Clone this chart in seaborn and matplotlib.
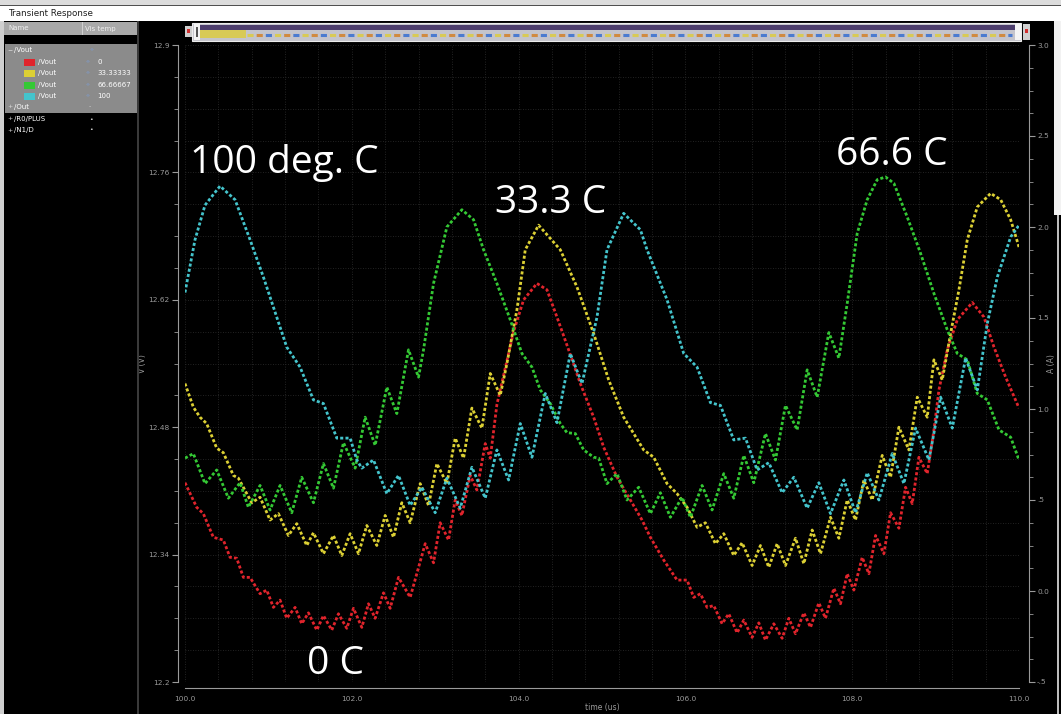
import numpy as np
import pandas as pd
import seaborn as sns
import matplotlib.pyplot as plt
from matplotlib.patches import Rectangle
from matplotlib.lines import Line2D
from matplotlib.ticker import FixedLocator, AutoMinorLocator

# ---- traces (time in us, volts) ----
t_0c = [100.00, 100.14, 100.22, 100.34, 100.46, 100.54, 100.62, 100.70, 100.78, 100.90,
        100.98, 101.06, 101.14, 101.22, 101.32, 101.40, 101.48, 101.58, 101.66, 101.76,
        101.84, 101.94, 102.02, 102.12, 102.20, 102.28, 102.38, 102.46, 102.56, 102.70,
        102.88, 102.98, 103.06, 103.16, 103.24, 103.32, 103.42, 103.50, 103.60, 103.66,
        103.74, 103.84, 103.94, 104.06, 104.22, 104.34, 104.46, 104.60, 104.74, 104.90,
        105.02, 105.18, 105.34, 105.48, 105.58, 105.74, 105.90, 106.02, 106.10, 106.18,
        106.26, 106.34, 106.44, 106.52, 106.62, 106.70, 106.80, 106.88, 106.96, 107.06,
        107.16, 107.24, 107.32, 107.42, 107.50, 107.60, 107.68, 107.78, 107.86, 107.94,
        108.02, 108.12, 108.20, 108.28, 108.38, 108.46, 108.56, 108.64, 108.72, 108.80,
        108.90, 108.98, 109.04, 109.14, 109.26, 109.44, 109.58, 109.70, 109.84, 110.00]
v_0c = [12.419, 12.392, 12.385, 12.359, 12.356, 12.337, 12.336, 12.315, 12.315, 12.297,
        12.301, 12.282, 12.290, 12.270, 12.282, 12.264, 12.276, 12.257, 12.273, 12.257,
        12.275, 12.259, 12.281, 12.260, 12.286, 12.270, 12.298, 12.281, 12.315, 12.293,
        12.352, 12.331, 12.375, 12.356, 12.400, 12.383, 12.427, 12.411, 12.462, 12.446,
        12.505, 12.545, 12.585, 12.620, 12.638, 12.631, 12.601, 12.565, 12.528, 12.491,
        12.458, 12.425, 12.400, 12.378, 12.359, 12.334, 12.312, 12.312, 12.293, 12.297,
        12.282, 12.284, 12.264, 12.275, 12.254, 12.268, 12.249, 12.265, 12.246, 12.264,
        12.248, 12.270, 12.253, 12.276, 12.260, 12.287, 12.270, 12.303, 12.286, 12.319,
        12.301, 12.337, 12.319, 12.361, 12.341, 12.386, 12.369, 12.414, 12.396, 12.447,
        12.429, 12.477, 12.521, 12.565, 12.598, 12.617, 12.601, 12.568, 12.535, 12.501]

t_33c = [100.00, 100.10, 100.18, 100.26, 100.38, 100.46, 100.58, 100.64, 100.80, 100.90,
         101.02, 101.12, 101.24, 101.34, 101.46, 101.54, 101.66, 101.78, 101.88, 101.98,
         102.08, 102.18, 102.30, 102.40, 102.50, 102.60, 102.70, 102.82, 102.92, 103.02,
         103.14, 103.24, 103.34, 103.44, 103.56, 103.66, 103.78, 103.86, 103.98, 104.08,
         104.24, 104.50, 104.70, 104.90, 105.08, 105.26, 105.50, 105.62, 105.78, 105.90,
         106.02, 106.14, 106.24, 106.36, 106.46, 106.58, 106.68, 106.80, 106.90, 107.00,
         107.10, 107.20, 107.32, 107.42, 107.52, 107.62, 107.74, 107.84, 107.94, 108.04,
         108.14, 108.24, 108.36, 108.46, 108.56, 108.68, 108.78, 108.90, 108.98, 109.08,
         109.18, 109.28, 109.38, 109.50, 109.66, 109.78, 109.90, 110.00]
v_33c = [12.528, 12.502, 12.491, 12.484, 12.457, 12.452, 12.427, 12.424, 12.397, 12.403,
         12.378, 12.385, 12.361, 12.374, 12.350, 12.364, 12.341, 12.361, 12.339, 12.363,
         12.341, 12.372, 12.350, 12.383, 12.359, 12.397, 12.375, 12.418, 12.394, 12.440,
         12.418, 12.468, 12.446, 12.501, 12.479, 12.539, 12.515, 12.550, 12.609, 12.675,
         12.702, 12.675, 12.634, 12.583, 12.532, 12.491, 12.455, 12.447, 12.418, 12.407,
         12.392, 12.370, 12.375, 12.352, 12.363, 12.339, 12.353, 12.328, 12.350, 12.326,
         12.352, 12.328, 12.358, 12.330, 12.367, 12.341, 12.381, 12.358, 12.400, 12.378,
         12.422, 12.400, 12.449, 12.425, 12.480, 12.455, 12.513, 12.491, 12.554, 12.532,
         12.583, 12.631, 12.686, 12.722, 12.737, 12.730, 12.708, 12.678]

t_67c = [100.00, 100.10, 100.24, 100.38, 100.52, 100.66, 100.76, 100.90, 101.02, 101.14,
         101.28, 101.40, 101.54, 101.66, 101.78, 101.90, 102.04, 102.16, 102.28, 102.42,
         102.54, 102.68, 102.80, 102.86, 102.98, 103.14, 103.32, 103.46, 103.58, 103.74,
         103.90, 104.04, 104.16, 104.26, 104.38, 104.50, 104.58, 104.68, 104.78, 104.90,
         104.96, 105.06, 105.18, 105.30, 105.44, 105.58, 105.70, 105.82, 105.96, 106.06,
         106.20, 106.32, 106.46, 106.58, 106.70, 106.82, 106.96, 107.08, 107.20, 107.34,
         107.46, 107.58, 107.72, 107.84, 107.94, 108.06, 108.18, 108.30, 108.40, 108.50,
         108.66, 108.82, 108.98, 109.14, 109.26, 109.38, 109.50, 109.62, 109.76, 109.90,
         110.00]
v_67c = [12.446, 12.451, 12.418, 12.433, 12.402, 12.419, 12.392, 12.416, 12.389, 12.416,
         12.386, 12.425, 12.397, 12.440, 12.413, 12.463, 12.435, 12.491, 12.460, 12.524,
         12.495, 12.565, 12.535, 12.565, 12.638, 12.700, 12.719, 12.708, 12.675, 12.638,
         12.598, 12.561, 12.546, 12.521, 12.506, 12.484, 12.474, 12.473, 12.455, 12.447,
         12.446, 12.418, 12.429, 12.400, 12.414, 12.385, 12.408, 12.381, 12.403, 12.381,
         12.416, 12.389, 12.429, 12.402, 12.449, 12.419, 12.473, 12.444, 12.504, 12.477,
         12.543, 12.513, 12.584, 12.556, 12.616, 12.693, 12.730, 12.752, 12.755, 12.748,
         12.711, 12.671, 12.627, 12.587, 12.561, 12.554, 12.517, 12.510, 12.477, 12.469,
         12.444]

t_100c = [100.00, 100.12, 100.24, 100.42, 100.60, 100.78, 100.94, 101.22, 101.38, 101.54,
          101.66, 101.82, 101.98, 102.06, 102.12, 102.26, 102.42, 102.56, 102.70, 102.84,
          103.00, 103.14, 103.30, 103.44, 103.60, 103.74, 103.88, 104.02, 104.16, 104.32,
          104.46, 104.62, 104.76, 104.94, 105.06, 105.26, 105.46, 105.54, 105.78, 105.98,
          106.14, 106.30, 106.42, 106.58, 106.72, 106.86, 107.00, 107.16, 107.30, 107.46,
          107.60, 107.74, 107.90, 108.04, 108.18, 108.32, 108.48, 108.62, 108.76, 108.92,
          109.06, 109.20, 109.36, 109.50, 109.62, 109.74, 109.90, 110.00]
v_100c = [12.628, 12.686, 12.724, 12.745, 12.730, 12.686, 12.645, 12.568, 12.546, 12.510,
          12.506, 12.468, 12.468, 12.444, 12.435, 12.444, 12.407, 12.427, 12.394, 12.414,
          12.386, 12.424, 12.391, 12.436, 12.402, 12.455, 12.422, 12.484, 12.447, 12.517,
          12.485, 12.561, 12.528, 12.601, 12.675, 12.715, 12.697, 12.675, 12.620, 12.561,
          12.546, 12.507, 12.504, 12.466, 12.468, 12.433, 12.441, 12.408, 12.425, 12.391,
          12.419, 12.385, 12.422, 12.386, 12.430, 12.400, 12.451, 12.418, 12.479, 12.444,
          12.513, 12.479, 12.556, 12.521, 12.594, 12.645, 12.689, 12.702]

temps = ['0', '33.33333', '66.66667', '100']
trace_colors = ['#e0242c', '#dcd034', '#34c834', '#44c4cc']
notes = ['0 C', '33.3 C', '66.6 C', '100 deg. C']
note_t = [101.46, 103.72, 107.81, 100.06]
note_v = [12.209, 12.715, 12.768, 12.759]

x_ticks = [100, 102, 104, 106, 108, 110]
x_labels = ['100.0', '102.0', '104.0', '106.0', '108.0', '110.0']
v_ticks = [12.2, 12.34, 12.48, 12.62, 12.76, 12.9]
v_labels = ['12.2', '12.34', '12.48', '12.62', '12.76', '12.9']
a_ticks = [-0.5, 0.0, 0.5, 1.0, 1.5, 2.0, 2.5, 3.0]
a_labels = ['-.5', '0.0', '.5', '1.0', '1.5', '2.0', '2.5', '3.0']

df = pd.concat([
    pd.DataFrame({'time': t, 'V': v, 'temp': name})
    for t, v, name in zip([t_0c, t_33c, t_67c, t_100c], [v_0c, v_33c, v_67c, v_100c], temps)
])

sns.set_style('dark', {'axes.facecolor': 'black', 'figure.facecolor': 'black'})
plt.rcParams['font.family'] = ['DejaVu Sans']

W, H = 1061, 714
def fx(x):
    return x / W
def fy(y):
    return 1 - y / H

def box(x0, y0, x1, y1, **kw):
    fig.add_artist(Rectangle((fx(x0), fy(y1)), (x1 - x0) / W, (y1 - y0) / H,
                             transform=fig.transFigure, **kw))

fig = plt.figure(figsize=(10.61, 7.14), dpi=100, facecolor='black')

# ---- window chrome ----
box(0, 0, W, 5, facecolor='#dcdcdc', edgecolor='none')
box(0, 5, W, 6.5, facecolor='#505050', edgecolor='none')
box(0, 6.5, W, 21, facecolor='white', edgecolor='none')
fig.text(fx(8), fy(14), 'Transient Response', fontsize=6.3, color='#202020', va='center')
box(0, 21, 4, H, facecolor='#cfcfcf', edgecolor='none')
box(137, 21, 139, H, facecolor='#3a3a3a', edgecolor='none')
box(1054, 21, W, 215, facecolor='#f2f2f2', edgecolor='none')
box(1057, 215, 1059, H, facecolor='#bdbdbd', edgecolor='none')

# signal browser on the left
box(4, 22, 137, 35, facecolor='#a9a9a9', edgecolor='none')
box(82, 22, 83, 35, facecolor='#d0d0d0', edgecolor='none')
fig.text(fx(8), fy(28.5), 'Name', fontsize=5, color='#efefef', va='center')
fig.text(fx(85), fy(28.5), 'Vis temp', fontsize=5, color='#efefef', va='center')
box(5, 44, 137, 113, facecolor='#8b8b8b', edgecolor='none')
tree = [(50, '\u2212', '/Vout', None), (107, '+', '/Out', '-'),
        (119, '+', '/R0/PLUS', '\u2022'), (130, '+', '/N1/D', '\u2022')]
for y, sign, name, mark in tree:
    fig.text(fx(7), fy(y), sign, fontsize=4.5, color='#dddddd', va='center')
    fig.text(fx(14), fy(y), name, fontsize=5, color='white', va='center')
    fig.text(fx(89), fy(y), mark if mark else '\u2039\u203a', fontsize=4.5,
             color='#7aa0e0' if mark is None else '#dddddd', va='center')
for y, name, col in zip([62, 73, 85, 96], temps, trace_colors):
    box(24, y - 3.5, 35, y + 3.5, facecolor=col, edgecolor='none')
    fig.text(fx(38), fy(y), '/Vout', fontsize=5, color='white', va='center')
    fig.text(fx(85), fy(y), '\u2039\u203a', fontsize=4.5, color='#7aa0e0', va='center')
    fig.text(fx(97), fy(y), name, fontsize=5, color='white', va='center')

# overview strip above the graph
box(185, 26, 192, 37, facecolor='#cfcfcf', edgecolor='none')
box(187, 29, 190, 33, facecolor='#d03030', edgecolor='none')
box(192, 23, 1021, 41, facecolor='#c4c4cc', edgecolor='#ececec', linewidth=0.8)
box(196, 25, 1017, 30, facecolor='#4c3d6c', edgecolor='none')
box(200, 30, 246, 38, facecolor='#d8ca56', edgecolor='none')
box(194, 24, 200, 40, facecolor='#f4f4f4', edgecolor='none')
box(196, 27, 198, 37, facecolor='#555555', edgecolor='none')
box(1015, 24, 1021, 40, facecolor='#f4f4f4', edgecolor='none')
box(1023, 24, 1030, 40, facecolor='#cfcfcf', edgecolor='none')
box(1025, 29, 1028, 33, facecolor='#d03030', edgecolor='none')
for col, off in zip(['#d8ca56', '#4b7bd0', '#d08a40'], [0, 3, 6]):
    fig.add_artist(Line2D([fx(247), fx(1012)], [fy(34.5), fy(34.5)], transform=fig.transFigure,
                          color=col, linewidth=2.2, linestyle=(off, (2, 7)),
                          dash_capstyle='butt'))

# ---- waveform graph ----
ax = fig.add_axes([fx(185), fy(682), 834 / W, 637 / H])
ax.set_facecolor('black')
sns.lineplot(data=df, x='time', y='V', hue='temp', hue_order=temps, palette=trace_colors,
             estimator=None, sort=False, legend=False, linewidth=2.0,
             linestyle=(0, (1.1, 0.8)), ax=ax)
ax.set_xlim(100, 110)
ax.set_ylim(12.2, 12.9)

grey = '#9a9a9a'
ax.xaxis.set_major_locator(FixedLocator(x_ticks))
ax.set_xticklabels(x_labels)
ax.xaxis.set_minor_locator(AutoMinorLocator(5))
ax.yaxis.set_major_locator(FixedLocator(v_ticks))
ax.set_yticklabels(v_labels)
ax.yaxis.set_minor_locator(AutoMinorLocator(4))
ax.grid(which='both', color='#2e2e2e', linestyle=(0, (1, 2)), linewidth=0.6)
ax.tick_params(axis='x', which='both', direction='in', length=3, colors=grey,
               labelsize=5.3, pad=6)
ax.tick_params(axis='y', which='major', direction='out', length=4, colors=grey,
               labelsize=5.3, pad=2)
ax.tick_params(axis='y', which='minor', direction='out', length=3, colors=grey)
for side in ['top', 'right']:
    ax.spines[side].set_visible(False)
ax.spines['left'].set_position(('outward', 5))
ax.spines['bottom'].set_position(('outward', 4))
ax.spines['left'].set_color(grey)
ax.spines['bottom'].set_color(grey)
ax.set_xlabel('time (us)', fontsize=5.5, color=grey)
ax.set_ylabel('V (V)', fontsize=5.5, color=grey)
ax.xaxis.set_label_coords(0.5, -0.033)
ax.yaxis.set_label_coords(-0.045, 0.5)

ax2 = ax.twinx()
ax2.set_ylim(-0.5, 3.0)
ax2.yaxis.set_major_locator(FixedLocator(a_ticks))
ax2.set_yticklabels(a_labels)
ax2.yaxis.set_minor_locator(AutoMinorLocator(4))
ax2.tick_params(axis='y', which='major', direction='out', length=4, colors=grey,
                labelsize=5.3, pad=2)
ax2.tick_params(axis='y', which='minor', direction='out', length=3, colors=grey)
for side in ['top', 'left', 'bottom']:
    ax2.spines[side].set_visible(False)
ax2.spines['right'].set_position(('outward', 7))
ax2.spines['right'].set_color(grey)
ax2.set_ylabel('A (A)', fontsize=5.5, color=grey)
ax2.yaxis.set_label_coords(1.034, 0.5)
ax2.grid(False)

for txt, t, v in zip(notes, note_t, note_v):
    ax.text(t, v, txt, fontsize=28, color='white', family=['Open Sans', 'DejaVu Sans'],
            va='baseline', ha='left')

fig.savefig('out.png', dpi=100, facecolor=fig.get_facecolor())
